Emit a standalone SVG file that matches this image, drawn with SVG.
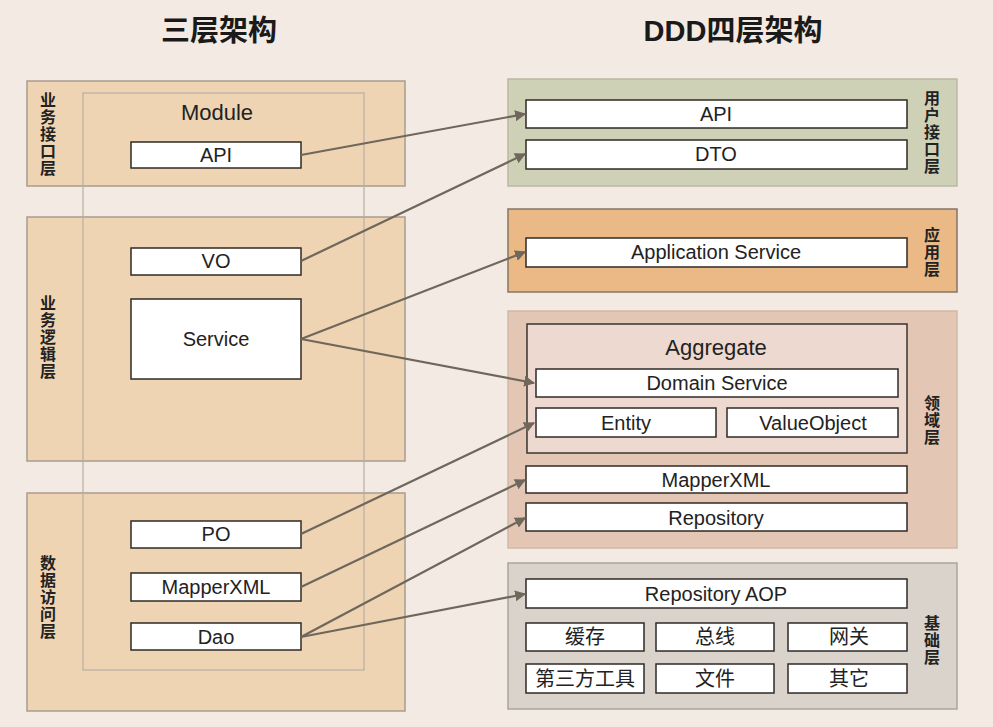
<svg xmlns="http://www.w3.org/2000/svg" width="993" height="727" viewBox="0 0 993 727">
<defs>
<style>
.bg{fill:#f3ebe3}
.lp{fill:#eed4b3;stroke:#a99c8f;stroke-width:1.5}
.box{fill:#ffffff;stroke:#2e2a26;stroke-width:1.5}
.t{font-family:"Liberation Sans","Noto Sans CJK SC",sans-serif;font-size:20px;fill:#222;text-anchor:middle;dominant-baseline:central}
.side{font-family:"Noto Sans CJK SC",sans-serif;font-size:16px;font-weight:bold;fill:#222;text-anchor:middle}
.title{font-family:"Liberation Sans","Noto Sans CJK SC",sans-serif;font-size:29px;font-weight:bold;fill:#1a1a1a;text-anchor:middle}
.conn{stroke:#6f665c;stroke-width:2.2;fill:none;marker-end:url(#ah)}
</style>
<marker id="ah" viewBox="0 0 10 10" refX="9" refY="5" markerWidth="5" markerHeight="5" orient="auto" markerUnits="strokeWidth">
<path d="M0,0 L10,5 L0,10 z" fill="#6f665c"/>
</marker>
</defs>
<rect class="bg" x="0" y="0" width="993" height="727"/>

<text class="title" x="219" y="41">三层架构</text>
<text class="title" x="733" y="41">DDD四层架构</text>

<g id="layer-api-left">
<rect class="lp" x="27" y="81" width="378" height="105"/>
<text class="side"><tspan x="48" y="106">业</tspan><tspan x="48" y="123">务</tspan><tspan x="48" y="140">接</tspan><tspan x="48" y="157">口</tspan><tspan x="48" y="174">层</tspan></text>
</g>
<g id="layer-logic-left">
<rect class="lp" x="27" y="217" width="378" height="244"/>
<text class="side"><tspan x="48" y="309">业</tspan><tspan x="48" y="326">务</tspan><tspan x="48" y="343">逻</tspan><tspan x="48" y="360">辑</tspan><tspan x="48" y="377">层</tspan></text>
</g>
<g id="layer-data-left">
<rect class="lp" x="27" y="493" width="378" height="218"/>
<text class="side"><tspan x="48" y="569">数</tspan><tspan x="48" y="586">据</tspan><tspan x="48" y="603">访</tspan><tspan x="48" y="620">问</tspan><tspan x="48" y="637">层</tspan></text>
</g>
<g id="module">
<rect x="83" y="93" width="281" height="577" fill="none" stroke="#b9aea3" stroke-width="1.2"/>
<text class="t" x="217" y="112" style="font-size:22px">Module</text>
</g>
<g id="l-api"><rect class="box" x="131" y="142" width="170" height="26"/><text class="t" x="216" y="155">API</text></g>
<g id="l-vo"><rect class="box" x="131" y="248" width="170" height="27"/><text class="t" x="216" y="261">VO</text></g>
<g id="l-service"><rect class="box" x="131" y="299" width="170" height="80"/><text class="t" x="216" y="339">Service</text></g>
<g id="l-po"><rect class="box" x="131" y="521" width="170" height="27"/><text class="t" x="216" y="534">PO</text></g>
<g id="l-mapper"><rect class="box" x="131" y="573" width="170" height="28"/><text class="t" x="216" y="587">MapperXML</text></g>
<g id="l-dao"><rect class="box" x="131" y="623" width="170" height="27"/><text class="t" x="216" y="637">Dao</text></g>

<g id="layer-ui">
<rect x="508" y="79" width="449" height="107" fill="#cfd1b7" stroke="#b9b9a3" stroke-width="1.5"/>
<text class="side"><tspan x="932" y="104">用</tspan><tspan x="932" y="121">户</tspan><tspan x="932" y="138">接</tspan><tspan x="932" y="155">口</tspan><tspan x="932" y="172">层</tspan></text>
</g>
<g id="r-api"><rect class="box" x="526" y="100" width="381" height="28"/><text class="t" x="716" y="114">API</text></g>
<g id="r-dto"><rect class="box" x="526" y="140" width="381" height="29"/><text class="t" x="716" y="154">DTO</text></g>

<g id="layer-app">
<rect x="508" y="209" width="449" height="83" fill="#eab985" stroke="#857566" stroke-width="1.5"/>
<text class="side"><tspan x="932" y="241">应</tspan><tspan x="932" y="258">用</tspan><tspan x="932" y="275">层</tspan></text>
</g>
<g id="r-appservice"><rect class="box" x="526" y="238" width="381" height="29"/><text class="t" x="716" y="252">Application Service</text></g>

<g id="layer-domain">
<rect x="508" y="311" width="449" height="237" fill="#e3c6b4" stroke="#d2b8a8" stroke-width="1.5"/>
<text class="side"><tspan x="932" y="409">领</tspan><tspan x="932" y="426">域</tspan><tspan x="932" y="443">层</tspan></text>
</g>
<g id="aggregate">
<rect x="527" y="324" width="380" height="129" fill="#eed9d0" stroke="#3a3430" stroke-width="1.5"/>
<text class="t" x="716" y="347" style="font-size:22px">Aggregate</text>
</g>
<g id="r-domainservice"><rect class="box" x="536" y="369" width="362" height="28"/><text class="t" x="717" y="383">Domain Service</text></g>
<g id="r-entity"><rect class="box" x="536" y="408" width="180" height="29"/><text class="t" x="626" y="423">Entity</text></g>
<g id="r-valueobject"><rect class="box" x="727" y="408" width="171" height="29"/><text class="t" x="813" y="423">ValueObject</text></g>
<g id="r-mapper"><rect class="box" x="526" y="466" width="381" height="27"/><text class="t" x="716" y="480">MapperXML</text></g>
<g id="r-repository"><rect class="box" x="526" y="503" width="381" height="28"/><text class="t" x="716" y="518">Repository</text></g>

<g id="layer-infra">
<rect x="508" y="563" width="449" height="146" fill="#d9d3cb" stroke="#aca59d" stroke-width="1.5"/>
<text class="side"><tspan x="932" y="629">基</tspan><tspan x="932" y="646">础</tspan><tspan x="932" y="663">层</tspan></text>
</g>
<g id="r-repoaop"><rect class="box" x="526" y="579" width="381" height="29"/><text class="t" x="716" y="594">Repository AOP</text></g>
<g id="r-cache"><rect class="box" x="526" y="623" width="118" height="28"/><text class="t" x="585" y="637">缓存</text></g>
<g id="r-bus"><rect class="box" x="656" y="623" width="118" height="28"/><text class="t" x="715" y="637">总线</text></g>
<g id="r-gateway"><rect class="box" x="788" y="623" width="119" height="28"/><text class="t" x="849" y="637">网关</text></g>
<g id="r-tools"><rect class="box" x="526" y="664" width="118" height="29"/><text class="t" x="585" y="679">第三方工具</text></g>
<g id="r-file"><rect class="box" x="656" y="664" width="118" height="29"/><text class="t" x="715" y="679">文件</text></g>
<g id="r-other"><rect class="box" x="788" y="664" width="119" height="29"/><text class="t" x="849" y="679">其它</text></g>

<g id="connectors">
<line class="conn" x1="301" y1="155" x2="525" y2="114"/>
<line class="conn" x1="301" y1="261" x2="525" y2="154"/>
<line class="conn" x1="301" y1="339" x2="525" y2="252"/>
<line class="conn" x1="301" y1="339" x2="534" y2="383"/>
<line class="conn" x1="301" y1="534" x2="534" y2="423"/>
<line class="conn" x1="301" y1="587" x2="525" y2="480"/>
<line class="conn" x1="301" y1="637" x2="525" y2="518"/>
<line class="conn" x1="301" y1="637" x2="525" y2="594"/>
</g>
</svg>
